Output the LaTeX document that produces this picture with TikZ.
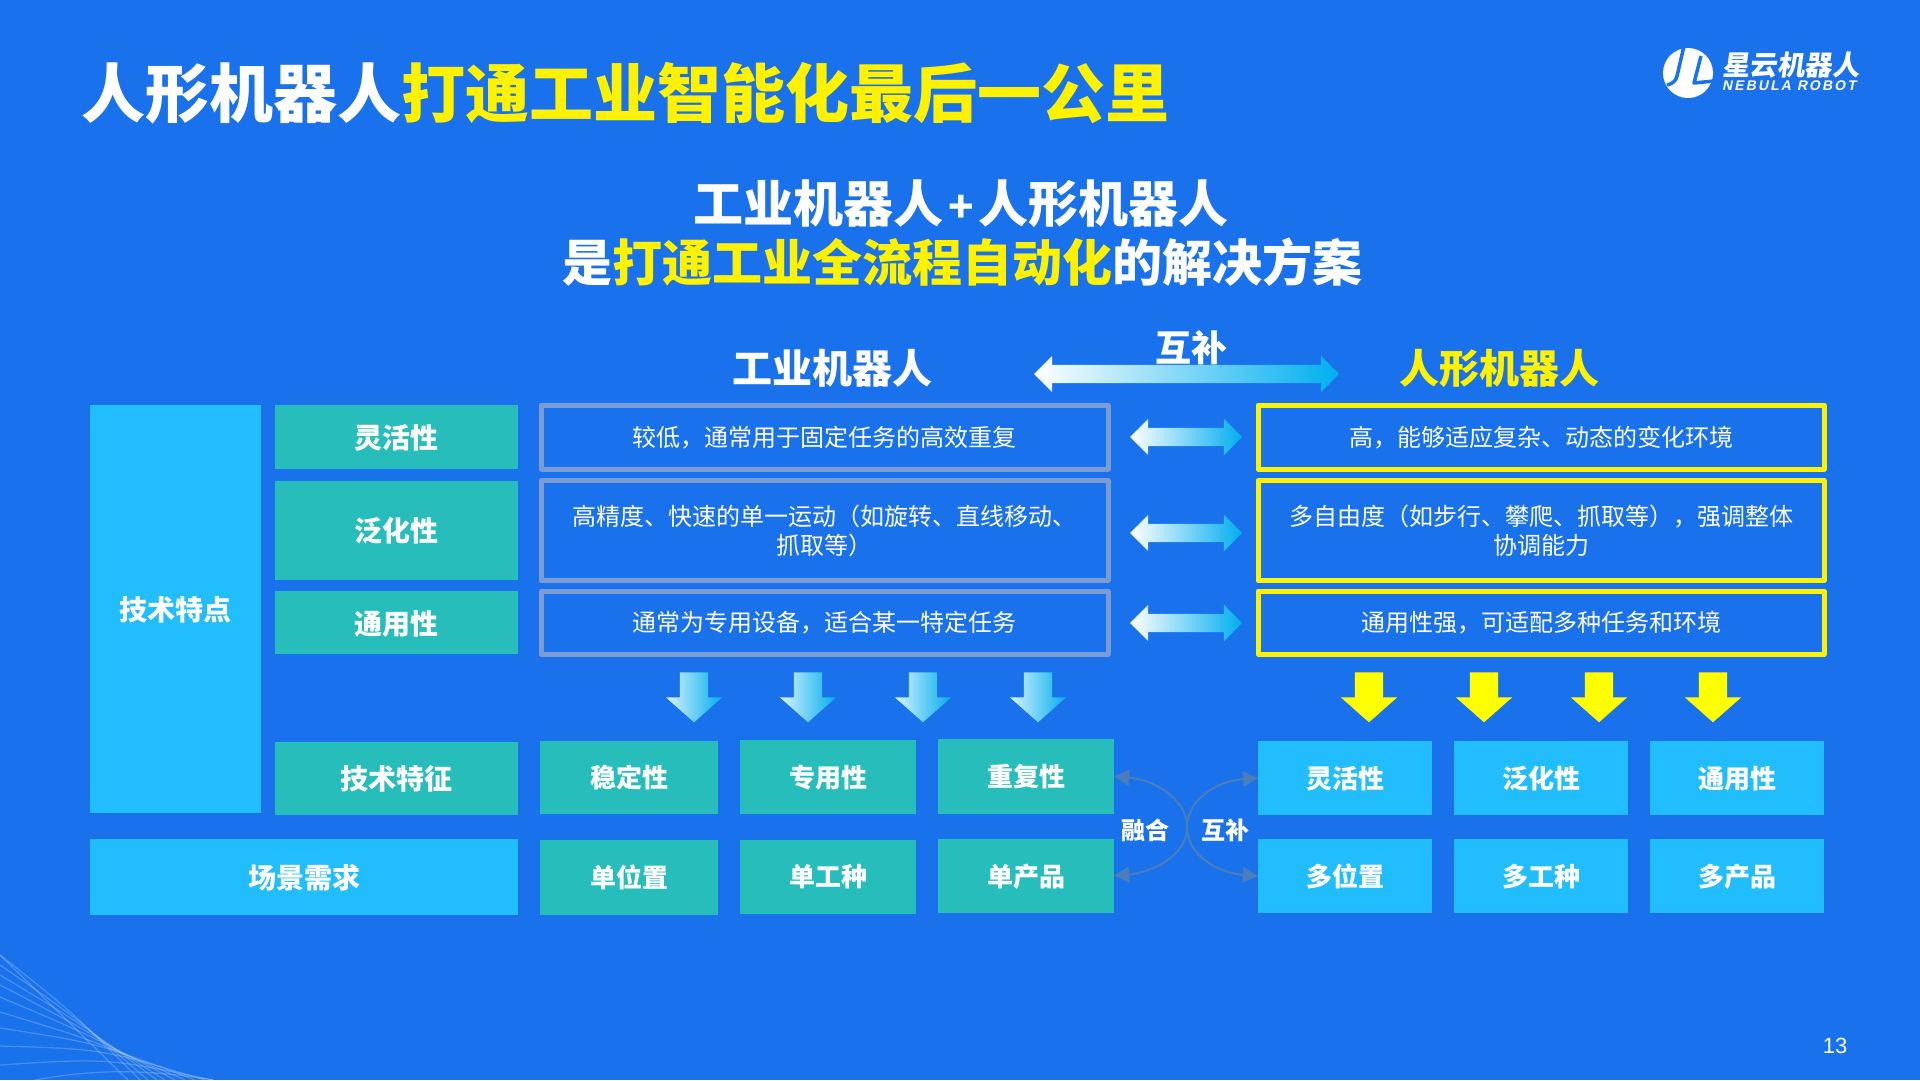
\documentclass[tikz,border=0pt]{standalone}
\usepackage{fontspec}
\setmainfont{Noto Sans CJK SC}
\newfontfamily\numfont{Liberation Sans}
\newfontfamily\logoen[LetterSpace=15,FakeSlant=0.2]{Liberation Sans}
\newfontfamily\logocn[FakeSlant=0.14]{Noto Sans CJK SC}
\usetikzlibrary{arrows.meta,shapes.arrows}
\definecolor{bgblue}{HTML}{1971EB}
\definecolor{tealfill}{HTML}{26BDBB}
\definecolor{skyfill}{HTML}{22BDFD}
\definecolor{greyline}{HTML}{7C9BD2}
\definecolor{linkblue}{HTML}{4B7DBC}
\definecolor{arrowblue}{HTML}{00AEEF}
\newcommand{\pxfont}[1]{\fontsize{#1}{#1}\selectfont}
\tikzset{
	tealbox/.style={rectangle,fill=tealfill,text=white,inner sep=0pt,text height=25.5pt,text depth=2.5pt,font=\pxfont{28}\bfseries},
	tealsmall/.style={tealbox,text height=23.3pt,text depth=2.7pt,font=\pxfont{26}\bfseries},
	skybox/.style={rectangle,fill=skyfill,text=white,inner sep=0pt,text height=23.3pt,text depth=2.7pt,font=\pxfont{26}\bfseries},
	greybox/.style={rectangle,draw=greyline,line width=5pt,text=white,inner sep=0pt,align=center,font=\fontsize{24}{29}\selectfont},
	yellowbox/.style={greybox,draw=yellow},
	oneline/.style={text height=21.3pt,text depth=2.7pt},
	headtext/.style={text=white,inner sep=0pt,font=\pxfont{40}\bfseries},
	twohead/.style={double arrow,minimum height=112pt,inner sep=9pt,double arrow head extend=9pt,double arrow tip angle=90,left color=white,right color=arrowblue},
	downblue/.style={single arrow,shape border rotate=270,minimum height=50pt,inner sep=14pt,single arrow head extend=14pt,single arrow tip angle=97,left color=arrowblue!15,right color=arrowblue},
	downyellow/.style={downblue,left color=yellow,right color=yellow},
	curvelink/.style={draw=linkblue,line width=2pt,>={Stealth[length=15pt,width=16pt,inset=0pt]}},
}
\begin{document}
\begin{tikzpicture}[x=1pt,y=-1pt,line join=round]
	\useasboundingbox (0,0) rectangle (1920,1080);
	\fill[bgblue] (0,0) rectangle (1920,1080);
	% wave lines, bottom left
	\begin{scope}
		\clip (0,900) rectangle (300,1080);
		\foreach \ya/\xb/\yc in {955/128/1017,955/140/1010,965/148/1016,975/157/1022,985/165/1028,997/175/1034,1012/185/1040,1028/195/1043,1046/205/1049,1065/213/1058}
			\draw[white,opacity=.22,line width=1.2pt] (0,\ya) .. controls (\xb*.5,\yc) .. (\xb,1080);
		\draw[white,opacity=.22,line width=1.2pt] (35,1080) .. controls (90,1070) and (140,1068) .. (213,1080);
	\end{scope}
	% title
	\node (title) at (81,93) [anchor=west,text=white,inner sep=0pt,font=\pxfont{64}\bfseries] {人形机器人{\color{yellow}打通工业智能化最后一公里}};
	\node (subone) at (961,204) [text=white,inner sep=0pt,font=\pxfont{50}\bfseries] {工业机器人\kern5pt{\fontsize{42}{42}\selectfont +}\kern5pt 人形机器人};
	\node (subtwo) at (962,262) [text=white,inner sep=0pt,font=\pxfont{50}\bfseries] {是{\color{yellow}打通工业全流程自动化}的解决方案};
	% logo
	\node (logocircle) at (1688,73) [circle,fill=white,minimum size=50pt,inner sep=0pt] {};
	\draw[bgblue,line width=3.5pt] (1684,46)--(1677,76) .. controls (1676,81) and (1672,84) .. (1667,85);
	\draw[bgblue,line width=3.5pt] (1701,56)--(1694,83)--(1714,81);
	\node (logocn) at (1722,65) [anchor=west,text=white,inner sep=0pt,font=\pxfont{27.5}\logocn\bfseries] {星云机器人};
	\node (logoen) at (1722,86) [anchor=west,text=white,inner sep=0pt,font=\pxfont{14}\logoen\bfseries] {NEBULA ROBOT};
	% column heads
	\node (headind) at (832,368) [headtext] {工业机器人};
	\node (headhum) at (1499,368) [headtext,text=yellow] {人形机器人};
	\node (bothtext) at (1191,348) [headtext,font=\pxfont{36}\bfseries] {互补};
	\node (botharrow) at (1186.5,374) [twohead,minimum height=305pt] {};
	% left column
	\node (techspec) at (175.5,609) [tealbox,fill=skyfill,minimum width=171pt,minimum height=408pt] {技术特点};
	\node (labflex) at (396.5,437) [tealbox,minimum width=243pt,minimum height=64pt] {灵活性};
	\node (labgen) at (396.5,530) [tealbox,minimum width=243pt,minimum height=99pt] {泛化性};
	\node (labuni) at (396.5,622.5) [tealbox,minimum width=243pt,minimum height=63pt] {通用性};
	\node (labfeat) at (396.5,778) [tealbox,minimum width=243pt,minimum height=73pt] {技术特征};
	\node (labscene) at (304,877) [tealbox,fill=skyfill,minimum width=428pt,minimum height=76pt] {场景需求};
	% description boxes
	\node (indflex) at (824.5,437) [greybox,oneline,minimum width=567pt,minimum height=64pt] {较低，通常用于固定任务的高效重复};
	\node (indgen) at (824.5,530.5) [greybox,minimum width=567pt,minimum height=100pt] {高精度、快速的单一运动（如旋转、直线移动、\\抓取等）};
	\node (induni) at (824.5,622.5) [greybox,oneline,minimum width=567pt,minimum height=63pt] {通常为专用设备，适合某一特定任务};
	\node (humflex) at (1541,437) [yellowbox,oneline,minimum width=566pt,minimum height=64pt] {高，能够适应复杂、动态的变化环境};
	\node (humgen) at (1541,530.5) [yellowbox,minimum width=566pt,minimum height=100pt] {多自由度（如步行、攀爬、抓取等），强调整体\\协调能力};
	\node (humuni) at (1541,622.5) [yellowbox,oneline,minimum width=566pt,minimum height=63pt] {通用性强，可适配多种任务和环境};
	% small double arrows
	\node (twoflex) at (1186,437) [twohead] {};
	\node (twogen) at (1186,533) [twohead] {};
	\node (twouni) at (1186,623) [twohead] {};
	% down arrows
	\foreach \i/\xa/\xb in {1/694/1369,2/808/1484,3/923/1599,4/1038/1713}{
		\node (downind\i) at (\xa,691) [downblue] {};
		\node (downhum\i) at (\xb,691) [downyellow] {};
	}
	% lower boxes, left
	\node (stable) at (629,777.5) [tealsmall,minimum width=178pt,minimum height=73pt] {稳定性};
	\node (special) at (828,777) [tealsmall,minimum width=176pt,minimum height=74pt] {专用性};
	\node (repeated) at (1026,776.5) [tealsmall,minimum width=176pt,minimum height=75pt] {重复性};
	\node (oneplace) at (629,877.5) [tealsmall,minimum width=178pt,minimum height=75pt] {单位置};
	\node (onework) at (828,876.5) [tealsmall,minimum width=176pt,minimum height=74pt] {单工种};
	\node (oneprod) at (1026,876) [tealsmall,minimum width=176pt,minimum height=74pt] {单产品};
	% lower boxes, right
	\node (flexible) at (1345,778) [skybox,minimum width=174pt,minimum height=74pt] {灵活性};
	\node (general) at (1541,778) [skybox,minimum width=174pt,minimum height=74pt] {泛化性};
	\node (universal) at (1737,778) [skybox,minimum width=174pt,minimum height=74pt] {通用性};
	\node (manyplace) at (1345,876) [skybox,minimum width=174pt,minimum height=74pt] {多位置};
	\node (manywork) at (1541,876) [skybox,minimum width=174pt,minimum height=74pt] {多工种};
	\node (manyprod) at (1737,876) [skybox,minimum width=174pt,minimum height=74pt] {多产品};
	% curved links
	\coordinate (meet) at (1187,827);
	\draw[curvelink,<-] (repeated.east) .. controls +(40,3) and +(0,-28) .. (meet);
	\draw[curvelink,<-] (oneprod.east) .. controls +(40,-4) and +(0,28) .. (meet);
	\draw[curvelink,<-] (flexible.west) .. controls +(-40,3) and +(0,-28) .. (meet);
	\draw[curvelink,<-] (manyplace.west) .. controls +(-40,-3) and +(0,28) .. (meet);
	\node (mergetext) at (1145.5,830) [text=white,inner sep=0pt,font=\pxfont{24}\bfseries] {融合};
	\node (fixtext) at (1225.5,830) [text=white,inner sep=0pt,font=\pxfont{24}\bfseries] {互补};
	% page number
	\node (pagenum) at (1835,1046) [text=white,inner sep=0pt,font=\pxfont{22}\numfont] {13};
\end{tikzpicture}
\end{document}
